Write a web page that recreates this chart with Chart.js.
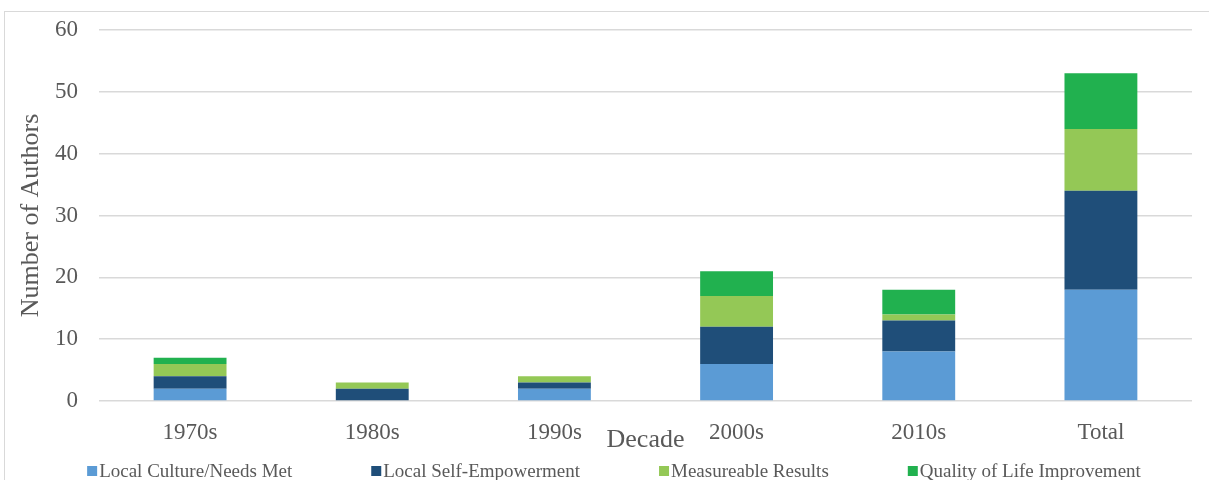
<!DOCTYPE html>
<html>
<head>
<meta charset="utf-8">
<script src="https://cdn.jsdelivr.net/npm/chart.js@4/dist/chart.umd.min.js"></script>
<style>
  html, body { margin: 0; padding: 0; background: #ffffff; }
  #wrap { position: relative; width: 1209px; height: 480px; }
</style>
</head>
<body>
<div id="wrap"><canvas id="chart" width="1209" height="480"></canvas></div>
<script>
// Authors per decade, split by the outcome each one emphasised
const decades = ['1970s', '1980s', '1990s', '2000s', '2010s', 'Total'];
const localCulture = [2, 0, 2, 6, 8, 18];
const selfEmpowerment = [2, 2, 1, 6, 5, 16];
const measureableResults = [2, 1, 1, 5, 1, 10];
const qualityOfLife = [1, 0, 0, 4, 4, 9];
const yTicks = [0, 10, 20, 30, 40, 50, 60];

const seriesNames = ['Local Culture/Needs Met', 'Local Self-Empowerment', 'Measureable Results', 'Quality of Life Improvement'];
const seriesColors = ['#5B9BD5', '#1F4E79', '#94C856', '#21B14F'];
const seriesValues = [localCulture, selfEmpowerment, measureableResults, qualityOfLife];

const TEXT = '#595959';
const GRID = '#d9d9d9';
const SERIF = '"Liberation Serif", "Times New Roman", serif';

// Frame around the whole figure
const framePlugin = {
  id: 'frame',
  beforeDraw(chart) {
    const ctx = chart.ctx;
    ctx.save();
    ctx.strokeStyle = GRID;
    ctx.lineWidth = 1;
    ctx.strokeRect(4.5, 11.5, chart.width + 10, chart.height + 10);
    ctx.restore();
  }
};

// Single-row legend along the bottom edge with wide gaps between entries
const bottomLegend = {
  id: 'bottomLegend',
  afterDraw(chart, args, opts) {
    const ctx = chart.ctx;
    const items = chart.data.datasets.map(d => ({ text: d.label, color: d.backgroundColor }));
    ctx.save();
    ctx.font = opts.fontSize + 'px ' + SERIF;
    ctx.textBaseline = 'middle';
    ctx.textAlign = 'left';
    const widths = items.map(it => opts.box + opts.boxGap + ctx.measureText(it.text).width);
    const total = widths.reduce((a, b) => a + b, 0) + opts.gap * (items.length - 1);
    let x = opts.centerX - total / 2;
    items.forEach((it, i) => {
      ctx.fillStyle = it.color;
      ctx.fillRect(x, opts.y - opts.box / 2, opts.box, opts.box);
      ctx.fillStyle = TEXT;
      ctx.fillText(it.text, x + opts.box + opts.boxGap, opts.y + 1);
      x += widths[i] + opts.gap;
    });
    ctx.restore();
  }
};

new Chart(document.getElementById('chart'), {
  type: 'bar',
  data: {
    labels: decades,
    datasets: seriesNames.map((name, i) => ({
      label: name,
      data: seriesValues[i],
      backgroundColor: seriesColors[i],
      borderWidth: 0,
      barPercentage: 0.4,
      categoryPercentage: 1.0
    }))
  },
  options: {
    responsive: false,
    animation: false,
    layout: { padding: { left: 0, right: 17, top: 30, bottom: 0 } },
    plugins: {
      legend: { display: false },
      tooltip: { enabled: false },
      bottomLegend: { fontSize: 19, box: 10, boxGap: 2, gap: 79, centerX: 614, y: 471 }
    },
    scales: {
      x: {
        stacked: true,
        grid: { display: false, drawTicks: false },
        border: { display: false },
        ticks: { color: TEXT, font: { family: SERIF, size: 23 }, padding: 18 },
        title: {
          display: true,
          text: 'Decade',
          color: TEXT,
          font: { family: SERIF, size: 26 },
          padding: { top: 0, bottom: 24 }
        },
        afterFit(scale) { scale.height = 79; }
      },
      y: {
        stacked: true,
        min: 0,
        max: 60,
        afterBuildTicks(scale) { scale.ticks = yTicks.map(v => ({ value: v })); },
        grid: { color: GRID, lineWidth: 1.5, drawTicks: false },
        border: { display: false },
        ticks: { color: TEXT, font: { family: SERIF, size: 23 }, padding: 21 },
        title: {
          display: true,
          text: 'Number of Authors',
          color: TEXT,
          font: { family: SERIF, size: 26 },
          padding: { top: 16, bottom: 0 }
        },
        afterFit(scale) {
          scale.width = 99;
          scale.paddingTop = 0;
          scale.paddingBottom = 0;
        }
      }
    }
  },
  plugins: [framePlugin, bottomLegend]
});
</script>
</body>
</html>
